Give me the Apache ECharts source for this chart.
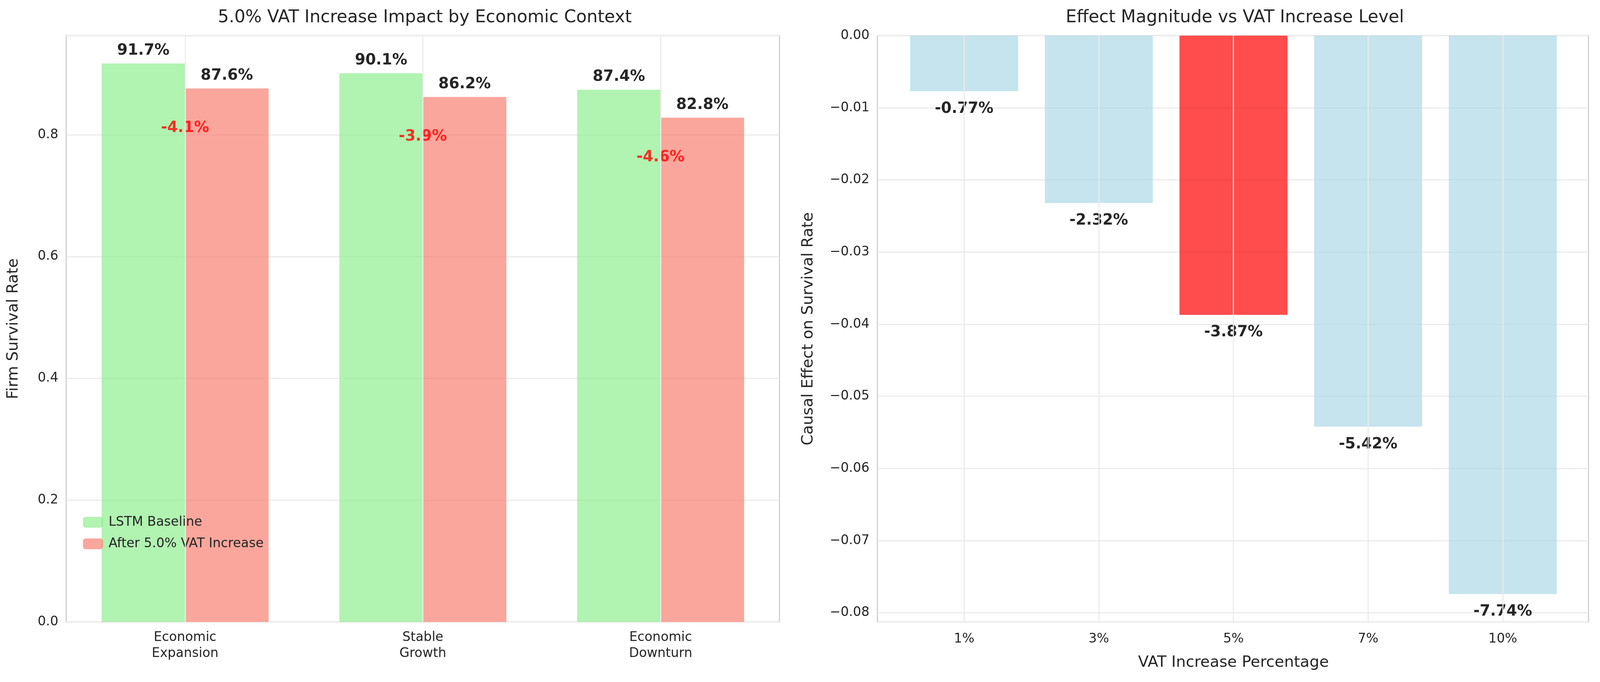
<!DOCTYPE html>
<html>
<head>
<meta charset="utf-8">
<script src="https://cdn.jsdelivr.net/npm/echarts@6/dist/echarts.min.js"></script>
<style>html,body{margin:0;padding:0;background:#fff;overflow:hidden}#chartmain{width:100vw;height:100vh}</style>
</head>
<body>
<div id="chartmain"></div>
<script>
var contexts = ['Economic\nExpansion', 'Stable\nGrowth', 'Economic\nDownturn'];
var baseline = [0.917, 0.901, 0.874];
var afterVat = [0.876, 0.862, 0.828];
var changeLabels = ['-4.1%', '-3.9%', '-4.6%'];
var vatLevels = ['1%', '3%', '5%', '7%', '10%'];
var effects = [-0.0077, -0.0232, -0.0387, -0.0542, -0.0774];
var highlightLevel = '5%';

var FONT = 'DejaVu Sans';
var txt = '#262626';

var myChart = echarts.init(document.getElementById('chartmain'));
// everything was measured on a 4446px wide picture, so scale to the real canvas
var s = myChart.getWidth() / 4446;
function p(v) { return v * s; }
function minus(t) { return t.replace('-', '\u2212'); }

var gridLine = { show: true, lineStyle: { color: '#ebebeb', width: p(3) } };
var vline = { silent: true, symbol: 'none', label: { show: false },
              lineStyle: { color: '#ebebeb', width: p(3), type: 'solid' } };

var option = {
    animation: false,
    textStyle: { fontFamily: FONT },
    title: [
        { text: '5.0% VAT Increase Impact by Economic Context', left: p(1175), top: p(20), textAlign: 'center',
          textStyle: { fontSize: p(48), fontWeight: 'normal', color: txt, fontFamily: FONT } },
        { text: 'Effect Magnitude vs VAT Increase Level', left: p(3426), top: p(20), textAlign: 'center',
          textStyle: { fontSize: p(48), fontWeight: 'normal', color: txt, fontFamily: FONT } }
    ],
    legend: {
        left: p(225), top: p(1428), orient: 'vertical', itemGap: p(24), itemWidth: p(56), itemHeight: p(30),
        textStyle: { fontSize: p(36), color: txt, padding: [0, 0, 0, p(10)] },
        data: ['LSTM Baseline', 'After 5.0% VAT Increase']
    },
    grid: [
        { left: p(184), width: p(1982), top: p(99), bottom: p(167), show: true, borderColor: '#cccccc', borderWidth: p(3) },
        { left: p(2438), right: p(32), top: p(99), bottom: p(167), show: true, borderColor: '#cccccc', borderWidth: p(3) },
        { left: p(2492), width: p(1871), top: p(99), bottom: p(167) }
    ],
    xAxis: [
        { gridIndex: 0, type: 'category', data: contexts,
          axisLine: { show: false }, axisTick: { show: false },
          axisLabel: { fontSize: p(36), color: txt, margin: p(22), lineHeight: p(44) } },
        { gridIndex: 1, type: 'value', min: 0, max: 1, show: false },
        { gridIndex: 2, type: 'category', data: vatLevels,
          axisLine: { show: false }, axisTick: { show: false },
          axisLabel: { fontSize: p(36), color: txt, margin: p(30) },
          name: 'VAT Increase Percentage', nameLocation: 'middle', nameGap: p(92),
          nameTextStyle: { fontSize: p(43), color: txt } }
    ],
    yAxis: [
        { gridIndex: 0, type: 'value', min: 0, max: 0.9628, splitNumber: 5,
          axisLine: { show: false }, axisTick: { show: false }, splitLine: gridLine,
          axisLabel: { fontSize: p(36), color: txt, margin: p(22), showMaxLabel: false,
                       formatter: function (v) { return v.toFixed(1); } },
          name: 'Firm Survival Rate', nameLocation: 'middle', nameGap: p(125),
          nameTextStyle: { fontSize: p(43), color: txt } },
        { gridIndex: 1, type: 'value', min: -0.08127, max: 0, splitNumber: 8,
          axisLine: { show: false }, axisTick: { show: false }, splitLine: gridLine,
          axisLabel: { fontSize: p(36), color: txt, margin: p(22), showMinLabel: false,
                       formatter: function (v) { return minus(v.toFixed(2)); } },
          name: 'Causal Effect on Survival Rate', nameLocation: 'middle', nameGap: p(170),
          nameTextStyle: { fontSize: p(43), color: txt } },
        { gridIndex: 2, type: 'value', min: -0.08127, max: 0, show: false }
    ],
    series: [
        { type: 'line', xAxisIndex: 0, yAxisIndex: 0, z: 0, data: [], markLine: Object.assign({
              data: contexts.map(function (c) { return { xAxis: c }; }) }, vline) },
        { type: 'line', xAxisIndex: 2, yAxisIndex: 2, z: 0, data: [], markLine: Object.assign({
              data: vatLevels.map(function (c) { return { xAxis: c }; }) }, vline) },
        { name: 'LSTM Baseline', type: 'bar', xAxisIndex: 0, yAxisIndex: 0, z: 2,
          barWidth: p(232), barGap: '0%', data: baseline,
          itemStyle: { color: 'rgba(144,238,144,0.7)' },
          label: { show: true, position: 'top', distance: p(14), fontSize: p(42), fontWeight: 'bold', color: txt,
                   formatter: function (q) { return (q.value * 100).toFixed(1) + '%'; } } },
        { name: 'After 5.0% VAT Increase', type: 'bar', xAxisIndex: 0, yAxisIndex: 0, z: 2,
          barWidth: p(232), barGap: '0%', data: afterVat,
          itemStyle: { color: 'rgba(250,128,114,0.7)' },
          label: { show: true, position: 'top', distance: p(14), fontSize: p(42), fontWeight: 'bold', color: txt,
                   formatter: function (q) { return (q.value * 100).toFixed(1) + '%'; } } },
        { type: 'scatter', xAxisIndex: 0, yAxisIndex: 0, symbolSize: 0, silent: true, z: 3,
          data: contexts.map(function (c, i) { return [c, afterVat[i] - 0.065]; }),
          label: { show: true, position: 'inside', fontSize: p(42), fontWeight: 'bold', color: '#ff0000',
                   formatter: function (q) { return changeLabels[q.dataIndex]; } } },
        { type: 'bar', xAxisIndex: 2, yAxisIndex: 2, barWidth: p(300), z: 2,
          data: effects.map(function (v, i) {
              return { value: v, itemStyle: { color: vatLevels[i] === highlightLevel ? 'rgba(255,0,0,0.7)' : 'rgba(173,216,230,0.7)' } };
          }),
          label: { show: true, position: 'bottom', distance: p(28), fontSize: p(42), fontWeight: 'bold', color: txt,
                   formatter: function (q) { return (q.value * 100).toFixed(2) + '%'; } } }
    ]
};
myChart.setOption(option);
</script>
</body>
</html>
